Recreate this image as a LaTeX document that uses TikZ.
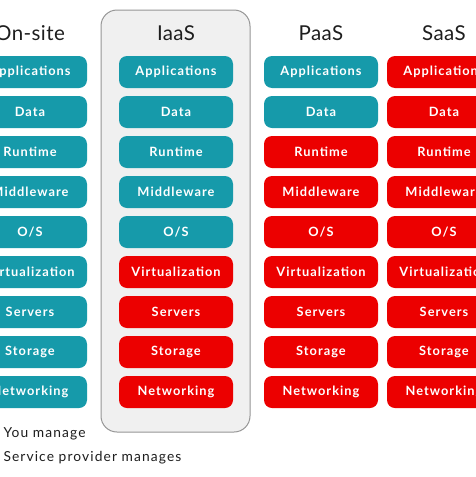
\documentclass[tikz,border=0pt]{standalone}
\usepackage{fontspec}
\setmainfont{Lato}
\definecolor{teal}{RGB}{22,154,170}
\definecolor{rhred}{RGB}{236,0,0}
\definecolor{panelfill}{RGB}{240,240,240}
\definecolor{panelline}{RGB}{150,150,150}
\definecolor{ink}{RGB}{30,30,30}
\tikzset{
  layer/.style={rounded corners=8pt, minimum width=114pt, minimum height=32pt, inner sep=0pt,
    text=white, font=\fontsize{12.8}{14}\selectfont\bfseries\addfontfeatures{LetterSpace=8}},
  mine/.style={layer, fill=teal},
  theirs/.style={layer, fill=rhred},
  header/.style={text=ink, font=\fontsize{20.5}{22}\selectfont\addfontfeatures{LetterSpace=2}},
  legend/.style={text=ink, anchor=west, font=\fontsize{13.8}{15}\selectfont\addfontfeatures{LetterSpace=8}},
  panel/.style={rounded corners=16pt, fill=panelfill, draw=panelline, line width=1pt}
}
\begin{document}
\begin{tikzpicture}[x=1pt,y=-1pt]
\useasboundingbox (0,0) rectangle (476,477);
\clip (0,0) rectangle (476,477);
\fill[white] (0,0) rectangle (476,477);
\draw[panel] (101,10) rectangle (250,432);
\node[header] (h1) at (30,33) {On-site};
\node[header] (h2) at (176,33) {IaaS};
\node[header] (h3) at (321,33) {PaaS};
\node[header] (h4) at (444,33) {SaaS};
\def\labels{Applications,Data,Runtime,Middleware,O/S,Virtualization,Servers,Storage,Networking}
\foreach \t [count=\i] in \labels {
  \pgfmathsetmacro{\yy}{32+40*\i}
  \node[mine] (on\i) at (30,\yy) {\t};
  \ifnum\i<6
    \node[mine] (ia\i) at (176,\yy) {\t};
  \else
    \node[theirs] (ia\i) at (176,\yy) {\t};
  \fi
  \ifnum\i<3
    \node[mine] (pa\i) at (321,\yy) {\t};
  \else
    \node[theirs] (pa\i) at (321,\yy) {\t};
  \fi
  \node[theirs] (sa\i) at (444,\yy) {\t};
}
\node[legend] (l1) at (0,434) {You manage};
\node[legend] (l2) at (0,458) {Service provider manages};
\end{tikzpicture}
\end{document}
